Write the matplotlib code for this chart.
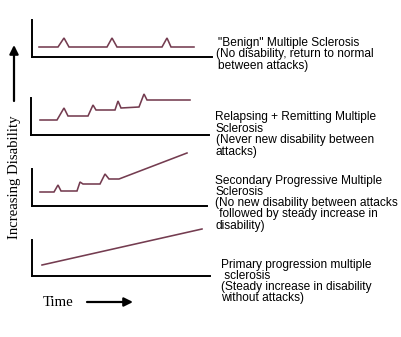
import matplotlib
matplotlib.use("Agg")
import matplotlib.pyplot as plt

W, H = 401, 337
LINE = "#743c50"

# Course of disability over time for each form (time, disability level)
benign_t = [7, 26, 32, 37, 75, 80, 85, 130, 135, 139, 162]
benign_d = [10, 10, 19, 10, 10, 19, 10, 10, 19, 10, 10]

relapsing_t = [9, 26, 33, 37, 57, 62, 65, 84, 87, 90, 108, 113, 116, 159]
relapsing_d = [15, 15, 27, 19, 19, 30, 25, 25, 34, 27, 28, 41, 35, 35]

secondary_t = [8, 22, 26, 29, 45, 48, 51, 68, 73, 77, 87, 155]
secondary_d = [14, 14, 21, 15, 15, 24, 22, 22, 32, 27, 27, 53]

primary_t = [10, 170]
primary_d = [11, 47]

captions = [
    ['"Benign" Multiple Sclerosis', '(No disability, return to normal', 'between attacks)'],
    ['Relapsing + Remitting Multiple', 'Sclerosis', '(Never new disability between', 'attacks)'],
    ['Secondary Progressive Multiple', 'Sclerosis', '(No new disability between attacks',
     ' followed by steady increase in', 'disability)'],
    ['Primary progression multiple', ' sclerosis', '(Steady increase in disability',
     'without attacks)'],
]

y_label = "Increasing Disability"
x_label = "Time"

fig = plt.figure(figsize=(W / 100, H / 100), dpi=100)
fig.patch.set_facecolor("white")

# panel boxes in pixels: left, top, right, bottom
boxes = [(32, 20, 212, 57), (31, 98, 209, 135), (32, 169, 207, 206), (32, 240, 210, 276)]
series = [(benign_t, benign_d), (relapsing_t, relapsing_d),
          (secondary_t, secondary_d), (primary_t, primary_d)]

for (l, t, r, b), (xs, ys) in zip(boxes, series):
    ax = fig.add_axes([l / W, 1 - b / H, (r - l) / W, (b - t) / H])
    ax.plot(xs, ys, color=LINE, lw=1.15, clip_on=False, solid_joinstyle="miter")
    ax.set_xlim(0, r - l)
    ax.set_ylim(0, b - t)
    for s in ("top", "right"):
        ax.spines[s].set_visible(False)
    for s in ("left", "bottom"):
        ax.spines[s].set_linewidth(1.4)
        ax.spines[s].set_color("black")
    ax.set_xticks([])
    ax.set_yticks([])
    ax.patch.set_alpha(0)

# overlay in pixel units for labels and arrows
ov = fig.add_axes([0, 0, 1, 1], zorder=-1)
ov.set_xlim(0, W)
ov.set_ylim(H, 0)
ov.axis("off")

caption_pos = [
    [(218, 43), (216, 54.5), (218, 66)],
    [(215, 117), (215, 128.5), (216, 140), (215, 151.5)],
    [(215, 181), (215, 192), (215, 203), (216, 214.5), (216, 226)],
    [(221, 265), (221, 276), (221, 287), (221, 298)],
]
for lines, pos in zip(captions, caption_pos):
    for txt, (x, y) in zip(lines, pos):
        ov.text(x, y, txt, family="Liberation Sans", fontsize=8.6,
                ha="left", va="center", color="black")

ov.text(15, 177, y_label, family="Liberation Serif", fontsize=10.6,
        rotation=90, ha="center", va="center")
ov.annotate("", xy=(14, 45), xytext=(14, 101),
            arrowprops=dict(arrowstyle="-|>", lw=1.6, color="black",
                            mutation_scale=13, shrinkA=0, shrinkB=0))

ov.text(43, 302, x_label, family="Liberation Serif", fontsize=10.6,
        ha="left", va="center")
ov.annotate("", xy=(133, 302), xytext=(87, 302),
            arrowprops=dict(arrowstyle="-|>", lw=1.6, color="black",
                            mutation_scale=13, shrinkA=0, shrinkB=0))

fig.savefig("out.png", dpi=100, facecolor="white")
